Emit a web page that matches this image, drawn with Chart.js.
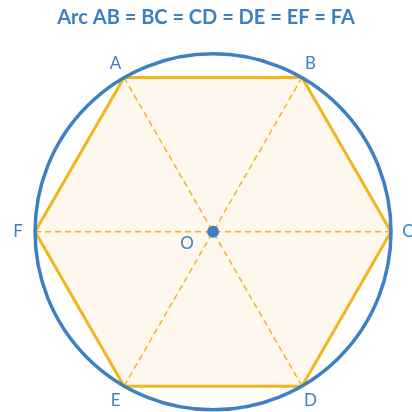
<!DOCTYPE html>
<html>
<head>
<meta charset="utf-8">
<script src="https://cdn.jsdelivr.net/npm/chart.js@4.4.1/dist/chart.umd.min.js"></script>
<style>
  html, body { margin: 0; padding: 0; background: #fff; }
  #wrap { width: 412px; height: 412px; }
</style>
</head>
<body>
<div id="wrap"><canvas id="hexChart" width="412" height="412"></canvas></div>
<script>
// hexagon vertices on a unit circle centred on O
const vertexLabels = ['A', 'B', 'C', 'D', 'E', 'F'];
const vertexX = [-0.5, 0.5, 1, 0.5, -0.5, -1];
const vertexY = [0.866, 0.866, 0, -0.866, -0.866, 0];
const centre = { label: 'O', x: 0, y: 0 };
const circleRadius = 1;
// diameters drawn dashed, as pairs of vertex indexes
const diameters = [[0, 3], [1, 4], [2, 5]];

const blue = '#3d80c4';
const orange = '#f4b41e';

const pt = i => ({ x: vertexX[i], y: vertexY[i] });
const hexPoints = vertexLabels.map((_, i) => pt(i)).concat([pt(0)]);

const datasets = [];
// centre dot on top
datasets.push({
    data: [{ x: centre.x, y: centre.y }],
    pointRadius: 6,
    pointBackgroundColor: blue,
    pointBorderWidth: 0,
    order: 0
});
diameters.forEach(d => {
    datasets.push({
        data: [pt(d[0]), pt(d[1])],
        showLine: true,
        borderColor: orange,
        borderWidth: 1.5,
        borderDash: [6, 4],
        pointRadius: 0,
        fill: false,
        order: 1
    });
});
datasets.push({
    data: hexPoints,
    showLine: true,
    borderColor: orange,
    borderWidth: 3,
    backgroundColor: '#fef7ed',
    fill: 'shape',
    pointRadius: 0,
    tension: 0,
    order: 2
});

// circle and letters, placed with the chart's scales
const geometryPlugin = {
    id: 'geometry',
    afterDatasetsDraw(chart) {
        const { ctx, scales: { x, y } } = chart;
        const cx = x.getPixelForValue(centre.x);
        const cy = y.getPixelForValue(centre.y);
        const r = x.getPixelForValue(circleRadius) - cx;
        ctx.save();
        ctx.beginPath();
        ctx.arc(cx, cy, r, 0, Math.PI * 2);
        ctx.strokeStyle = blue;
        ctx.lineWidth = 3.5;
        ctx.stroke();

        ctx.fillStyle = blue;
        ctx.font = '17px Lato, "Open Sans", sans-serif';
        ctx.textAlign = 'center';
        ctx.textBaseline = 'middle';
        vertexLabels.forEach((lab, i) => {
            const px = x.getPixelForValue(vertexX[i]);
            const py = y.getPixelForValue(vertexY[i]);
            const dx = px - cx, dy = py - cy;
            const len = Math.sqrt(dx * dx + dy * dy);
            ctx.fillText(lab, px + dx / len * 17, py + dy / len * 16);
        });
        ctx.fillText(centre.label, cx - 26, cy + 12);
        ctx.restore();
    }
};

new Chart(document.getElementById('hexChart'), {
    type: 'scatter',
    data: { datasets: datasets },
    options: {
        responsive: false,
        animation: false,
        layout: { padding: 0, autoPadding: false },
        scales: {
            x: { display: false, min: -1.197, max: 1.118 },
            y: { display: false, min: -1.011, max: 1.099 }
        },
        plugins: {
            legend: { display: false },
            tooltip: { enabled: false },
            title: {
                display: true,
                text: 'Arc AB = BC = CD = DE = EF = FA',
                color: blue,
                font: { family: 'Lato, "Open Sans", sans-serif', size: 20, weight: 'bold' },
                padding: { top: 6, bottom: 6 }
            }
        }
    },
    plugins: [geometryPlugin]
});
</script>
</body>
</html>
